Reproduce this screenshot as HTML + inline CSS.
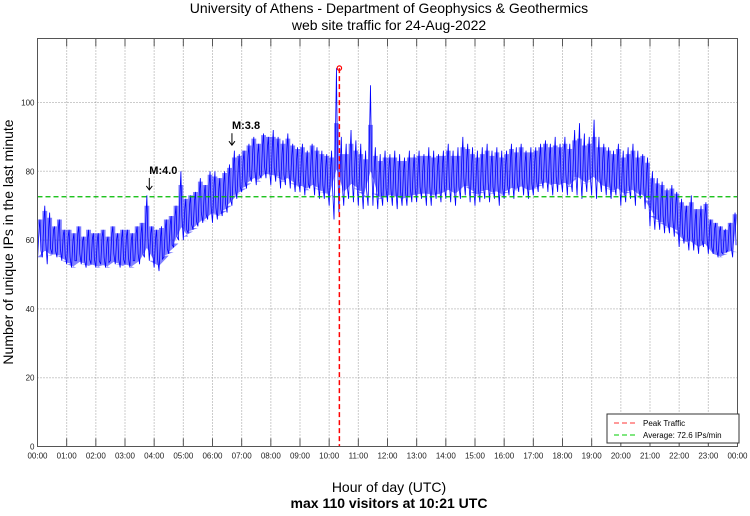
<!DOCTYPE html>
<html><head><meta charset="utf-8"><style>
body{margin:0;background:#fff;font-family:"Liberation Sans",sans-serif}
svg text{font-family:"Liberation Sans",sans-serif}
</style></head><body>
<svg id="chart" width="750" height="511" viewBox="0 0 750 511" xmlns="http://www.w3.org/2000/svg">
<rect width="750" height="511" fill="#fff"/>
<text x="389" y="13" font-size="14" text-anchor="middle">University of Athens - Department of Geophysics &amp; Geothermics</text>
<text x="389" y="30" font-size="14" text-anchor="middle">web site traffic for 24-Aug-2022</text>
<g id="grid"></g>
<g id="marks"></g>
<g id="axes"></g>
<text transform="translate(13,242) rotate(-90)" font-size="14" text-anchor="middle">Number of unique IPs in the last minute</text>
<text x="389" y="492" font-size="14" text-anchor="middle">Hour of day (UTC)</text>
<text x="389" y="508" font-size="14" font-weight="bold" text-anchor="middle">max 110 visitors at 10:21 UTC</text>
<g>
<rect x="607" y="414" width="132" height="29" fill="#fff" stroke="#333"/>
<line x1="614" y1="423" x2="638" y2="423" stroke="#f33" stroke-width="1" stroke-dasharray="5,3"/>
<text x="643" y="426" font-size="8">Peak Traffic</text>
<line x1="614" y1="435" x2="638" y2="435" stroke="#0c0" stroke-width="1" stroke-dasharray="5,3"/>
<text x="643" y="438" font-size="8">Average: 72.6 IPs/min</text>
</g>
</svg>
<script>
const lowVals=[54,55,53,56,55,54, 53,52,54,53,52,53, 52,53,52,54,53,52, 53,52,54,53,55,54, 52,51,55,56,58,60, 60,62,63,64,65,66, 65,66,67,68,70,72, 74,75,77,76,78,78, 76,77,75,76,75,74, 74,73,75,73,72,72, 70,66,68,70,72,71, 70,69,70,70,69,70, 71,70,69,70,70,71, 71,72,70,70,72,71, 72,71,70,72,73,71, 70,71,72,71,72,70, 72,73,72,74,73,72, 73,74,75,74,73,74, 74,73,74,73,72,74, 73,72,74,73,72,73, 70,71,72,70,72,69, 64,63,63,62,62,61, 58,59,57,57,56,58, 56,56,55,56,57,55];
const highVals=[66,70,68,64,66,63, 63,62,64,61,63,62, 62,63,61,64,62,63, 63,62,64,65,73,64, 63,64,66,67,70,80, 72,73,74,78,76,80, 80,78,80,82,86,85, 86,88,90,88,91,90, 92,90,89,91,88,87, 88,86,88,87,86,85, 86,110,90,88,92,89, 88,86,105,87,85,86, 85,86,85,84,86,85, 86,85,87,86,85,86, 88,86,87,90,88,87, 86,87,88,86,87,86, 86,88,87,88,86,87, 87,88,89,88,90,88, 90,88,92,94,91,90, 95,90,88,87,86,88, 86,87,88,86,85,84, 80,78,77,75,76,74, 72,70,73,69,70,71, 66,65,64,63,65,68];
const yTicks=[0,20,40,60,80,100];
const hourLabels=["00:00","01:00","02:00","03:00","04:00","05:00","06:00","07:00","08:00","09:00","10:00","11:00","12:00","13:00","14:00","15:00","16:00","17:00","18:00","19:00","20:00","21:00","22:00","23:00","00:00"];
const peakMinute=621, peakValue=110, averageValue=72.6;
const annotations=[{label:"M:4.0",minute:230,value:74},{label:"M:3.8",minute:400,value:87}];

const L=37.5,R=737.5,T=38.5,B=446.5;
const NS="http://www.w3.org/2000/svg";
const x=m=>L+(R-L)*m/1440;
const y=v=>B-(B-102.5)*v/100;
function el(tag,attrs,parent){const e=document.createElementNS(NS,tag);for(const k in attrs)e.setAttribute(k,attrs[k]);parent.appendChild(e);return e;}
const grid=document.getElementById('grid'),marks=document.getElementById('marks'),axes=document.getElementById('axes');
yTicks.forEach(v=>{
  if(v>0){const g=el('line',{x1:L,x2:R,y1:y(v),y2:y(v),stroke:'#999','stroke-dasharray':'1,2'},grid);
  
  }
  const t=el('text',{x:L-3,y:y(v)+3,'font-size':'8','text-anchor':'end',fill:'#222'},axes);t.textContent=v;
  
  
});
hourLabels.forEach((h,i)=>{
  const xx=x(i*60);
  if(i>0&&i<24){const g=el('line',{x1:xx,x2:xx,y1:T,y2:B,stroke:'#999','stroke-dasharray':'1,2'},grid);
  
  
  el('line',{x1:xx,x2:xx,y1:B,y2:B-8,stroke:'#555'},axes);el('line',{x1:xx,x2:xx,y1:T,y2:T+8,stroke:'#555'},axes);}
  const t=el('text',{x:xx,y:B+12,'font-size':'8','text-anchor':'middle',fill:'#222'},axes);t.textContent=h;
  
  
});
const frame=el('rect',{x:L,y:T,width:R-L,height:B-T,fill:'none',stroke:'#555'},axes);


// dense band per 10-minute bin
let band=[],bandBot=[];
for(let i=0;i<lowVals.length;i++){
  const lo=lowVals[i],hi=highVals[i];
  const top=Math.min(hi,(lo+hi)/2+6),bot=Math.max(lo,(lo+hi)/2-5);
  band.push(x(i*10)+','+y(top));band.push(x(i*10+10)+','+y(top));
  bandBot.unshift(x(i*10+10)+','+y(bot));bandBot.unshift(x(i*10)+','+y(bot));
}
const bd=el('polygon',{points:band.concat(bandBot).join(' '),fill:'#1a1aff','fill-opacity':'0.55',stroke:'none'},marks);


let pts=[];
for(let i=0;i<lowVals.length;i++){const m=i*10;pts.push(x(m)+','+y(lowVals[i]));pts.push(x(m+3)+','+y((lowVals[i]+highVals[i])/2+3));pts.push(x(m+5)+','+y(highVals[i]));pts.push(x(m+7)+','+y((lowVals[i]+highVals[i])/2-3));}
const line=el('polyline',{points:pts.join(' '),fill:'none',stroke:'#00f','stroke-width':'0.8'},marks);


const avg=el('line',{x1:L,x2:R,y1:y(averageValue),y2:y(averageValue),stroke:'#0b0','stroke-width':'1.2','stroke-dasharray':'5,3'},marks);


const pk=el('line',{x1:x(peakMinute),x2:x(peakMinute),y1:y(peakValue),y2:B,stroke:'#f00','stroke-width':'1.5','stroke-dasharray':'5,3'},marks);


const pd=el('circle',{cx:x(peakMinute),cy:y(peakValue),r:2.2,fill:'none',stroke:'#f00','stroke-width':'1.2'},marks);


annotations.forEach(a=>{
  const ax=x(a.minute),ay=y(a.value);
  const t=el('text',{x:ax,y:ay-18,'font-size':'11','font-weight':'bold'},marks);t.textContent=a.label;
  
  
  el('line',{x1:ax,x2:ax,y1:ay-14,y2:ay-2,stroke:'#000'},marks);
  el('path',{d:`M${ax-3},${ay-6} L${ax},${ay-2} L${ax+3},${ay-6}`,fill:'none',stroke:'#000'},marks);
});
</script>
</body></html>
